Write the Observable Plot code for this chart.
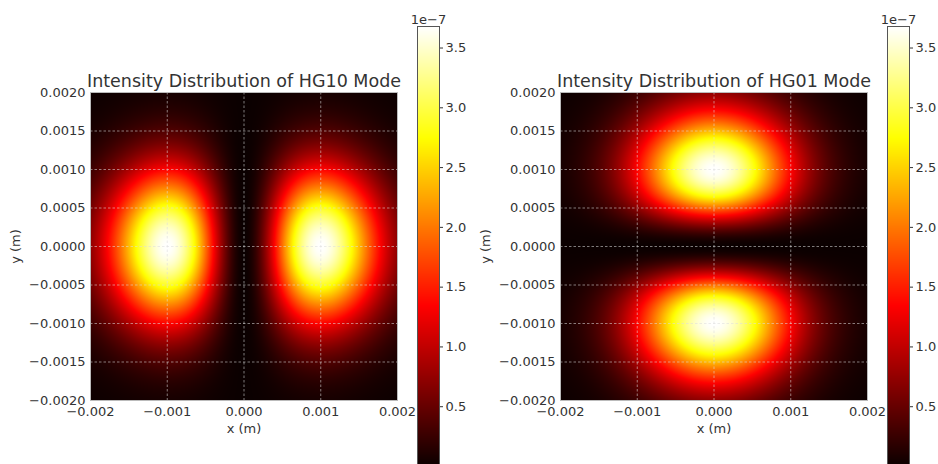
<!DOCTYPE html>
<html>
<head>
<meta charset="utf-8">
<script src="https://cdn.jsdelivr.net/npm/d3@7"></script>
<script src="https://cdn.jsdelivr.net/npm/@observablehq/plot@0.6"></script>
<style>
  html, body { margin: 0; padding: 0; background: #fff; }
  #wrap { position: relative; width: 938px; height: 464px; overflow: hidden; font-family: "DejaVu Sans", sans-serif; }
  #wrap svg { position: absolute; top: 0; overflow: visible; }
</style>
</head>
<body>
<div id="wrap"></div>
<script>
// ---- data ----
const modeNames = ["HG10", "HG01"];
const modeM = [1, 0];            // Hermite order along x
const modeN = [0, 1];            // Hermite order along y
const beamWaist = [0.001414];    // m (lobes peak at ±0.001 m)
const peakIntensity = [3.68e-7]; // colour-bar maximum
const extent = [-0.002, 0.002];  // m
const xTicks = [-0.002, -0.001, 0, 0.001, 0.002];
const yTicks = [-0.002, -0.0015, -0.001, -0.0005, 0, 0.0005, 0.001, 0.0015, 0.002];
const cbarTicks = [0.5e-7, 1.0e-7, 1.5e-7, 2.0e-7, 2.5e-7, 3.0e-7, 3.5e-7];
const cbarExponent = ["1e\u22127"];

// ---- helpers ----
const w = beamWaist[0], P = peakIntensity[0];
const H = (n, u) => n === 0 ? 1 : n === 1 ? 2 * u : 4 * u * u - 2;
function intensity(m, n) {
  const raw = (x, y) => {
    const u = Math.SQRT2 * x / w, v = Math.SQRT2 * y / w;
    return (H(m, u) ** 2) * (H(n, v) ** 2) * Math.exp(-2 * (x * x + y * y) / (w * w));
  };
  const norm = raw(m ? w / Math.SQRT2 : 0, n ? w / Math.SQRT2 : 0);
  return (x, y) => P * raw(x, y) / norm;
}
const minus = s => s.replace("-", "\u2212");
const fmt = (d, k) => minus((Math.abs(d) < 1e-12 ? 0 : d).toFixed(k));
const color = {
  type: "linear",
  domain: [0, 0.365079 * P, 0.746032 * P, P],
  range: ["#0b0000", "#ff0000", "#ffff00", "#ffffff"],
  interpolate: "rgb",
  clamp: true
};
const textColor = "#333333";
const wrap = document.getElementById("wrap");

function heatmap(i, left) {
  const f = intensity(modeM[i], modeN[i]);
  const svg = Plot.plot({
    width: 410, height: 464,
    marginLeft: 90, marginRight: 13, marginTop: 92, marginBottom: 64,
    style: { fontFamily: "DejaVu Sans, sans-serif", fontSize: "13px", color: textColor, background: "transparent" },
    x: { domain: extent },
    y: { domain: extent },
    color,
    marks: [
      Plot.raster({ fill: f, x1: extent[0], x2: extent[1], y1: extent[0], y2: extent[1], pixelSize: 1 }),
      Plot.gridX(xTicks, { stroke: "#dddddd", strokeOpacity: 0.7, strokeWidth: 0.8, strokeDasharray: "2.5,2" }),
      Plot.gridY(yTicks, { stroke: "#dddddd", strokeOpacity: 0.7, strokeWidth: 0.8, strokeDasharray: "2.5,2" }),
      Plot.frame({ stroke: "#bbbbbb", strokeWidth: 1 }),
      Plot.axisX({ ticks: xTicks, tickFormat: d => fmt(d, 3), tickSize: 0, tickPadding: 6, fill: textColor,
        label: "x (m)", labelAnchor: "center", labelArrow: "none", labelOffset: 32 }),
      Plot.axisY({ ticks: yTicks, tickFormat: d => fmt(d, 4), tickSize: 0, tickPadding: 5, fill: textColor,
        label: "y (m)", labelAnchor: "center", labelArrow: "none", labelOffset: 80 }),
      Plot.text([`Intensity Distribution of ${modeNames[i]} Mode`], {
        frameAnchor: "top", lineAnchor: "bottom", dy: -6, fontSize: 17.5, fill: textColor
      })
    ]
  });
  svg.style.left = left + "px";
  wrap.appendChild(svg);
}

function colorbar(left, width) {
  const svg = Plot.plot({
    width, height: 464,
    marginLeft: 17, marginRight: width - 39, marginTop: 26, marginBottom: 0,
    style: { fontFamily: "DejaVu Sans, sans-serif", fontSize: "13px", color: textColor, background: "transparent" },
    x: { domain: [0, 1], axis: null },
    y: { domain: [0, P], range: [466, 26] },
    color,
    marks: [
      Plot.raster({ fill: (x, y) => y, x1: 0, x2: 1, y1: 0, y2: P, pixelSize: 1 }),
      Plot.frame({ stroke: "#555555", strokeWidth: 1 }),
      Plot.axisY({ anchor: "right", ticks: cbarTicks, tickFormat: d => (d * 1e7).toFixed(1),
        tickSize: 3, tickPadding: 3, fill: textColor, label: null }),
      Plot.text(cbarExponent, { frameAnchor: "top", lineAnchor: "bottom", dy: -3, fill: textColor, fontSize: 13 })
    ]
  });
  svg.style.left = left + "px";
  wrap.appendChild(svg);
}

heatmap(0, 0);
colorbar(400, 70);
heatmap(1, 470);
colorbar(870, 68);
</script>
</body>
</html>
